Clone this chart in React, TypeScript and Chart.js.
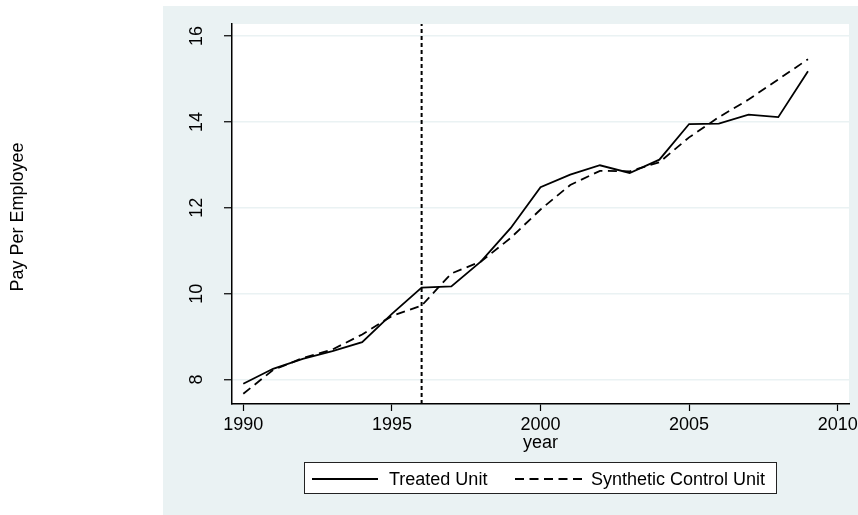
import React, { useEffect, useRef } from 'react';
import { Chart, registerables } from 'chart.js';

Chart.register(...registerables);

// ---- data ----
const years = [1990, 1991, 1992, 1993, 1994, 1995, 1996, 1997, 1998, 1999, 2000, 2001, 2002, 2003, 2004, 2005, 2006, 2007, 2008, 2009];
const treated = [7.90, 8.25, 8.48, 8.66, 8.87, 9.53, 10.14, 10.17, 10.75, 11.53, 12.48, 12.77, 12.99, 12.81, 13.12, 13.95, 13.96, 14.17, 14.11, 15.18];
const synthetic = [7.67, 8.22, 8.50, 8.70, 9.05, 9.48, 9.72, 10.47, 10.75, 11.30, 11.96, 12.53, 12.86, 12.85, 13.06, 13.64, 14.11, 14.52, 14.99, 15.46];
const xTicks = [1990, 1995, 2000, 2005, 2010];
const yTicks = [8, 10, 12, 14, 16];
const treatmentYear = 1996;
const seriesLabels = ['Treated Unit', 'Synthetic Control Unit'];
const xTitle = 'year';
const yTitle = 'Pay Per Employee';
const xMin = 1989.62;
const xMax = 2010.38;
const yMin = 7.43;
const yMax = 16.28;

const FONT = '"Liberation Sans", Arial, Helvetica, sans-serif';
const PANEL = '#eaf2f3';
const DASH = [9, 5.5];

const decor = {
  id: 'decor',
  beforeDraw(chart: any) {
    const { ctx, chartArea: a, width, height } = chart;
    ctx.save();
    ctx.fillStyle = '#ffffff';
    ctx.fillRect(0, 0, width, height);
    ctx.fillStyle = PANEL;
    ctx.fillRect(163, 6, width - 163, height - 6);
    ctx.fillStyle = '#ffffff';
    ctx.fillRect(a.left, a.top, a.right - a.left, a.bottom - a.top);
    ctx.restore();
  },
  afterDraw(chart: any) {
    const { ctx, chartArea: a, scales } = chart;
    const ys = scales.y;
    ctx.save();
    ctx.fillStyle = '#000';
    ctx.font = `18px ${FONT}`;
    ctx.textAlign = 'center';
    ctx.textBaseline = 'middle';
    yTicks.forEach((v) => {
      const py = ys.getPixelForValue(v);
      ctx.save();
      ctx.translate(197, py);
      ctx.rotate(-Math.PI / 2);
      ctx.fillText(String(v), 0, 0);
      ctx.restore();
    });
    ctx.save();
    ctx.translate(18, (a.top + a.bottom) / 2 + 3);
    ctx.rotate(-Math.PI / 2);
    ctx.fillText(yTitle, 0, 0);
    ctx.restore();
    ctx.fillText(xTitle, (a.left + a.right) / 2, 443);

    // legend
    const bx = 304.5, by = 462.5, bw = 472, bh = 31;
    ctx.fillStyle = '#fff';
    ctx.fillRect(bx, by, bw, bh);
    ctx.strokeStyle = '#222';
    ctx.lineWidth = 1;
    ctx.strokeRect(bx, by, bw, bh);
    const ly = 479;
    ctx.strokeStyle = '#000';
    ctx.lineWidth = 1.8;
    ctx.beginPath();
    ctx.moveTo(312, ly);
    ctx.lineTo(378, ly);
    ctx.stroke();
    ctx.setLineDash(DASH);
    ctx.beginPath();
    ctx.moveTo(515, ly);
    ctx.lineTo(582, ly);
    ctx.stroke();
    ctx.setLineDash([]);
    ctx.fillStyle = '#000';
    ctx.textAlign = 'left';
    ctx.fillText(seriesLabels[0], 389, ly + 1);
    ctx.fillText(seriesLabels[1], 591, ly + 1);
    ctx.restore();
  },
};

export default function App() {
  const ref = useRef<HTMLCanvasElement | null>(null);
  useEffect(() => {
    document.body.style.margin = '0';
    const canvas = ref.current;
    if (!canvas) return;
    const chart = new Chart(canvas, {
      type: 'line',
      data: {
        datasets: [
          {
            label: seriesLabels[0],
            data: years.map((y, i) => ({ x: y, y: treated[i] })),
            borderColor: '#000',
            borderWidth: 1.8,
            pointRadius: 0,
            tension: 0,
            fill: false,
          },
          {
            label: seriesLabels[1],
            data: years.map((y, i) => ({ x: y, y: synthetic[i] })),
            borderColor: '#000',
            borderWidth: 1.8,
            borderDash: DASH,
            pointRadius: 0,
            tension: 0,
            fill: false,
          },
          {
            label: 'treatment',
            data: [
              { x: treatmentYear, y: yMin },
              { x: treatmentYear, y: yMax },
            ],
            borderColor: '#000',
            borderWidth: 2,
            borderDash: [4, 3],
            pointRadius: 0,
            fill: false,
          },
        ],
      },
      options: {
        animation: false,
        responsive: false,
        devicePixelRatio: 1,
        layout: { padding: { top: 24, right: 9, left: 0, bottom: 0 } },
        plugins: { legend: { display: false }, tooltip: { enabled: false } },
        scales: {
          x: {
            type: 'linear',
            min: xMin,
            max: xMax,
            afterBuildTicks: (s: any) => {
              s.ticks = xTicks.map((v) => ({ value: v }));
            },
            afterFit: (s: any) => {
              s.height = 111;
              s.paddingLeft = 0;
              s.paddingRight = 0;
            },
            grid: { drawOnChartArea: false, drawTicks: true, tickLength: 7, tickColor: '#000', tickWidth: 1.2 },
            border: { display: true, color: '#000', width: 1.5 },
            ticks: {
              color: '#000',
              font: { family: FONT, size: 18 },
              padding: 3,
              maxRotation: 0,
              minRotation: 0,
              callback: (v: any) => String(v),
            },
          },
          y: {
            type: 'linear',
            min: yMin,
            max: yMax,
            afterBuildTicks: (s: any) => {
              s.ticks = yTicks.map((v) => ({ value: v }));
            },
            afterFit: (s: any) => {
              s.width = 232;
              s.paddingTop = 0;
              s.paddingBottom = 0;
            },
            grid: { color: PANEL, lineWidth: 1.5, drawTicks: true, tickLength: 8, tickColor: '#000', tickWidth: 1.2 },
            border: { display: true, color: '#000', width: 1.5 },
            ticks: { display: false },
          },
        },
      },
      plugins: [decor],
    });
    return () => chart.destroy();
  }, []);
  return (
    <div style={{ position: 'fixed', left: 0, top: 0, width: 858, height: 515 }}>
      <canvas ref={ref} width={858} height={515} style={{ display: 'block' }} />
    </div>
  );
}
